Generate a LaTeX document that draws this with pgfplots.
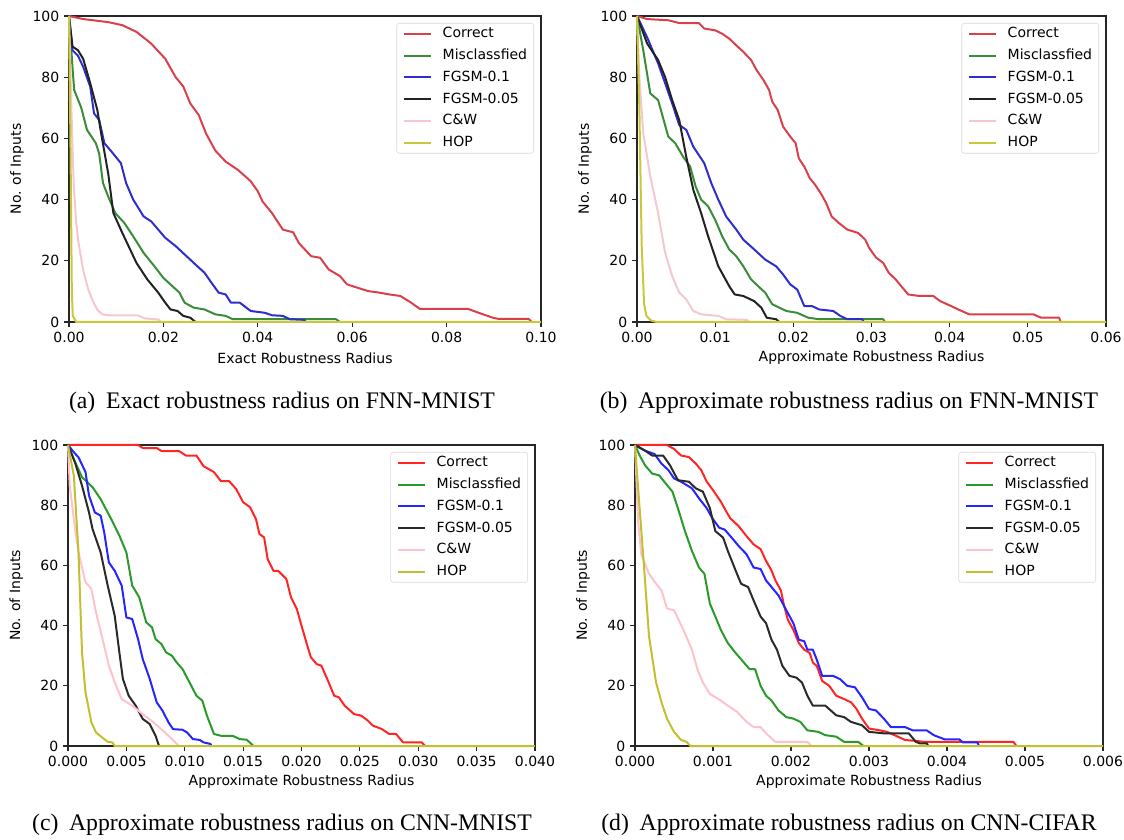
\documentclass[border=0pt]{standalone}
\usepackage{pgfplots}
\pgfplotsset{compat=1.18}
\usepackage{fontspec}
\setmainfont{Liberation Serif}
\newfontfamily\dejavu{DejaVu Sans}
\newcommand{\tickfont}{\dejavu\fontsize{10.5}{12}\selectfont}
\definecolor{redA}{HTML}{D9404A}
\definecolor{greenA}{HTML}{3A8C3A}
\definecolor{blueA}{HTML}{2E2ECC}
\definecolor{blackA}{HTML}{222222}
\definecolor{pinkA}{HTML}{F5C8CF}
\definecolor{yelA}{HTML}{C8C83A}
\definecolor{redC}{HTML}{FF2525}
\definecolor{greenC}{HTML}{2A9A2A}
\definecolor{blueC}{HTML}{2525FF}
\definecolor{blackC}{HTML}{2A2A2A}
\definecolor{pinkC}{HTML}{FFC2CC}
\definecolor{yelC}{HTML}{C0C030}
\pgfplotsset{
  panel/.style={
    scale only axis,
    axis line style={line width=0.8pt, black!85},
    tick align=outside,
    major tick length=3.75pt,
    tick style={black!85, line width=0.8pt},
    xtick pos=bottom, ytick pos=left,
    ymin=0, ymax=100, ytick={0,20,40,60,80,100},
    ticklabel style={font=\tickfont},
    label style={font=\tickfont},
    /pgf/number format/assume math mode=true,
    scaled x ticks=false,
    clip=false,
    every axis plot/.append style={line width=1.5pt, line join=round, mark=none},
    legend cell align=left,
    legend image code/.code={\draw[##1,line width=1.5pt] (0pt,0pt) -- (20pt,0pt);},
    legend style={at={(1,1)}, anchor=north east, xshift=-5.25pt, yshift=-5.25pt,
      draw=black!15, rounded corners=2pt, fill=white,
      font=\tickfont, inner xsep=5pt, inner ysep=3pt,
      row sep=6.3pt,
      nodes={inner sep=0pt, text height=8pt, text depth=2pt},
      /tikz/every odd column/.append style={column sep=8pt}},
    ylabel={No. of Inputs},
  }
}
\begin{document}
\begin{tikzpicture}
\path[use as bounding box] (0,0) rectangle (843pt,629.25pt);
% ---------------- (a)
\begin{axis}[panel, at={(51.75pt,387.75pt)}, anchor=south west,
  width=354pt, height=229.5pt,
  xmin=0, xmax=0.1, xtick={0,0.02,0.04,0.06,0.08,0.1},
  xticklabel style={/pgf/number format/.cd, fixed, fixed zerofill, precision=2},
  xlabel={Exact Robustness Radius},
  xlabel style={at={(axis description cs:0.5,-0.1176)}, anchor=center},
  ylabel style={at={(axis description cs:-0.110,0.5)}, anchor=center}]
\addplot[redA] coordinates {(0,100)(0.003,99)(0.0083,98)(0.0113,97)(0.0143,94.8)(0.0174,91)(0.0204,86)(0.0226,80)(0.0242,77)(0.0257,71.4)(0.0275,67.6)(0.029,61.7)(0.031,56)(0.0332,52.4)(0.0358,49.7)(0.0385,46)(0.04,42.7)(0.041,39.4)(0.043,35.6)(0.0453,30.2)(0.0475,29.3)(0.0487,25.8)(0.0513,21.5)(0.0532,21)(0.055,17.2)(0.0574,15)(0.0589,12.3)(0.0611,11.2)(0.0634,10.1)(0.0657,9.6)(0.0679,9)(0.0702,8.5)(0.0725,6.3)(0.0743,4.3)(0.0845,4.3)(0.0868,3)(0.0898,1.4)(0.091,1)(0.0974,1)(0.098,0)};
\addlegendentry{Correct}
\addplot[greenA] coordinates {(0,100)(0.00075,83)(0.0011,75.8)(0.0026,70)(0.0038,62.8)(0.0057,58.4)(0.0064,55)(0.0072,45.4)(0.0083,41)(0.0098,35.6)(0.0117,32.4)(0.0136,28)(0.0158,22.6)(0.0181,18.2)(0.02,14.4)(0.0219,11.7)(0.0234,9.6)(0.0245,6.3)(0.0264,4.7)(0.0287,4.1)(0.031,2.5)(0.0332,2)(0.0347,0.9)(0.0566,0.9)(0.0574,0)};
\addlegendentry{Misclassfied}
\addplot[blueA] coordinates {(0,100)(0.00075,88.8)(0.0019,87)(0.003,83.4)(0.0045,76.9)(0.0053,68.2)(0.0064,66)(0.0075,58.4)(0.009,55.7)(0.011,51.9)(0.0121,45.4)(0.0136,40)(0.0158,34.5)(0.0174,32.9)(0.0189,30.2)(0.0204,27.5)(0.0226,24.8)(0.0249,21.5)(0.0272,18.2)(0.0287,16.1)(0.0302,12.8)(0.0317,9.6)(0.0332,9)(0.0343,6.3)(0.0362,6.3)(0.0385,3.6)(0.0415,3)(0.043,2.2)(0.0453,2)(0.0468,0.9)(0.0498,0.7)(0.0502,0)};
\addlegendentry{FGSM-0.1}
\addplot[blackA] coordinates {(0,100)(0.00075,90)(0.0019,88.8)(0.003,86)(0.0045,78)(0.006,69.3)(0.0068,61.7)(0.0083,48.6)(0.0094,35.6)(0.0113,29.1)(0.0143,19.3)(0.0166,13.9)(0.0189,9.6)(0.0204,6.3)(0.0215,4.1)(0.023,3.6)(0.0242,2)(0.0257,1.4)(0.0268,0)};
\addlegendentry{FGSM-0.05}
\addplot[pinkA] coordinates {(0,100)(0.0005,70)(0.001,45)(0.0015,33)(0.002,26)(0.003,17)(0.004,11)(0.005,7)(0.006,4)(0.007,2.5)(0.0085,2.2)(0.0145,2.2)(0.016,1.2)(0.019,0.8)(0.0195,0)};
\addlegendentry{C\&W}
\addplot[yelA] coordinates {(0,100)(0.0003,60)(0.0006,10)(0.0008,2)(0.0012,1)(0.0015,0)(0.1,0)};
\addlegendentry{HOP}
\end{axis}
% ---------------- (b)
\begin{axis}[panel, at={(477.75pt,387.75pt)}, anchor=south west,
  width=351.75pt, height=229.5pt,
  xmin=0, xmax=0.06, xtick={0,0.01,0.02,0.03,0.04,0.05,0.06},
  xticklabel style={/pgf/number format/.cd, fixed, fixed zerofill, precision=2},
  xlabel={Approximate Robustness Radius},
  xlabel style={at={(axis description cs:0.5,-0.1176)}, anchor=center},
  ylabel style={at={(axis description cs:-0.111,0.5)}, anchor=center}]
\addplot[redA] coordinates {(0,100)(0.0013,99)(0.004,98.6)(0.0054,97.7)(0.0079,97.7)(0.0086,95.9)(0.01,95.3)(0.0109,94.2)(0.0118,92.6)(0.0127,90.4)(0.0136,88.3)(0.0146,85.6)(0.0153,82.3)(0.0162,79)(0.0169,75.8)(0.0173,72)(0.018,69.3)(0.0187,63.8)(0.0196,60.6)(0.0203,58.4)(0.0207,53.5)(0.0214,50.8)(0.0221,47)(0.0228,44.8)(0.0235,42.1)(0.0242,38.9)(0.0249,34.5)(0.0258,32.4)(0.0269,30.2)(0.0283,29.1)(0.0292,26.9)(0.0297,24.2)(0.0306,21)(0.0315,19.3)(0.0322,16.1)(0.0331,13.9)(0.0338,11.7)(0.0347,9)(0.0361,8.5)(0.0379,8.5)(0.0388,6.8)(0.0402,5.2)(0.0411,4.1)(0.0425,2.5)(0.0507,2.5)(0.0517,1.4)(0.054,1.4)(0.0542,0)};
\addlegendentry{Correct}
\addplot[greenA] coordinates {(0,100)(0.0008,88.8)(0.0017,74.7)(0.0027,72.5)(0.004,60.6)(0.0049,58.4)(0.0059,54)(0.0068,50.8)(0.0075,44.3)(0.0082,40)(0.0091,37.8)(0.01,33.4)(0.0109,28)(0.0118,23.7)(0.0127,21.5)(0.0136,18.2)(0.0146,13.9)(0.0155,11.7)(0.0164,9.6)(0.0173,5.8)(0.0182,4.7)(0.0191,3.6)(0.0205,3)(0.0219,1.4)(0.0233,0.9)(0.0315,0.9)(0.0317,0)};
\addlegendentry{Misclassfied}
\addplot[blueA] coordinates {(0,100)(0.0013,93)(0.0027,84.5)(0.0036,78)(0.0045,71.4)(0.0054,64.4)(0.0063,62.8)(0.0072,57.3)(0.0086,51.9)(0.0095,45.4)(0.0104,40)(0.0114,34.5)(0.0127,30.2)(0.0136,26.9)(0.015,23.7)(0.0164,20.4)(0.0178,18.2)(0.0187,15.5)(0.0196,12.3)(0.0205,10.6)(0.0214,5.2)(0.0224,5.2)(0.0233,4.1)(0.0251,3.6)(0.026,2)(0.0269,0.9)(0.0288,0.9)(0.029,0)};
\addlegendentry{FGSM-0.1}
\addplot[blackA] coordinates {(0,100)(0.0013,91)(0.0027,85.6)(0.0036,80)(0.0045,72.5)(0.0054,66)(0.0063,54)(0.0072,43.2)(0.0082,35.6)(0.0091,28)(0.0104,18.2)(0.0118,11.7)(0.0125,9)(0.0136,8.5)(0.015,6.8)(0.0159,4.7)(0.0166,1.4)(0.0178,0.9)(0.0182,0)};
\addlegendentry{FGSM-0.05}
\addplot[pinkA] coordinates {(0,100)(0.0003,80)(0.0008,61.7)(0.0017,47.6)(0.0027,35.6)(0.0036,22.6)(0.0045,15)(0.0054,9.6)(0.0063,7.4)(0.0072,3.6)(0.0082,2.5)(0.0104,2)(0.0114,0.9)(0.0141,0.7)(0.0143,0)};
\addlegendentry{C\&W}
\addplot[yelA] coordinates {(0,100)(0.0003,70)(0.0006,25)(0.0009,6)(0.0012,2)(0.0018,0.5)(0.0025,0)(0.06,0)};
\addlegendentry{HOP}
\end{axis}
% ---------------- (c)
\begin{axis}[panel, at={(51pt,69.75pt)}, anchor=south west,
  width=350.25pt, height=225.75pt,
  xmin=0, xmax=0.04, xtick={0,0.005,0.01,0.015,0.02,0.025,0.03,0.035,0.04},
  xticklabel style={/pgf/number format/.cd, fixed, fixed zerofill, precision=3},
  xlabel={Approximate Robustness Radius},
  xlabel style={at={(axis description cs:0.5,-0.1186)}, anchor=center},
  ylabel style={at={(axis description cs:-0.111,0.5)}, anchor=center}]
\addplot[redC] coordinates {(0,100)(0.006,100)(0.0064,99)(0.0076,99)(0.008,98)(0.0095,98)(0.0101,96.5)(0.011,96.5)(0.0116,93)(0.0125,91)(0.0131,88)(0.0138,88)(0.0144,85.4)(0.015,81)(0.0156,79.3)(0.0161,75.4)(0.0164,70.4)(0.0168,69.3)(0.0171,62.1)(0.0176,58.2)(0.018,58.2)(0.0187,55.5)(0.0191,49.4)(0.0196,45.5)(0.02,40)(0.0205,33.3)(0.0208,29.5)(0.0213,27.2)(0.0217,26.7)(0.0222,22.3)(0.0228,16.7)(0.0232,16.2)(0.0237,13.4)(0.0245,10.6)(0.0251,10.1)(0.0257,8.4)(0.0261,6.8)(0.0269,5.6)(0.0275,4)(0.0281,4)(0.0287,1.2)(0.0303,1.2)(0.0306,0)};
\addlegendentry{Correct}
\addplot[greenC] coordinates {(0,100)(0.0005,95.3)(0.0012,89.3)(0.0021,86)(0.0028,82)(0.0037,75.4)(0.0044,69.9)(0.005,64.3)(0.0055,53.3)(0.0061,49.4)(0.0067,41.1)(0.0072,39.4)(0.0075,35.5)(0.008,33.9)(0.0084,31.1)(0.0089,30)(0.0093,27.8)(0.0098,25.6)(0.0104,21.2)(0.011,16.7)(0.0115,15.1)(0.0119,10.1)(0.0125,4)(0.0131,3.4)(0.0141,3.4)(0.0147,2.3)(0.0153,2.1)(0.0157,0.7)(0.0159,0)};
\addlegendentry{Misclassfied}
\addplot[blueC] coordinates {(0,100)(0.0005,97.6)(0.0009,95.9)(0.0015,91)(0.0018,83.2)(0.0023,77.6)(0.0028,76.5)(0.0031,71)(0.0035,61)(0.004,58.2)(0.0046,53.3)(0.005,42.7)(0.0055,42.2)(0.006,35.5)(0.0064,28.9)(0.007,22.3)(0.0076,14.5)(0.0081,11.7)(0.0086,7.9)(0.009,5.6)(0.0098,5.4)(0.0102,4.5)(0.0107,2.3)(0.0113,2)(0.0116,1.2)(0.0122,0.7)(0.0123,0)};
\addlegendentry{FGSM-0.1}
\addplot[blackC] coordinates {(0,100)(0.0006,94.2)(0.0012,86.5)(0.0018,77.6)(0.0021,72.1)(0.0028,64.3)(0.0034,53.3)(0.004,43.3)(0.0044,31.1)(0.0047,22.3)(0.0052,16.7)(0.0058,13.4)(0.0064,9)(0.007,7.3)(0.0075,3.4)(0.0078,0)};
\addlegendentry{FGSM-0.05}
\addplot[pinkC] coordinates {(0,100)(0.00015,86.5)(0.0005,75.4)(0.0009,64.3)(0.0015,54.4)(0.002,52.2)(0.0024,44.4)(0.0031,33.3)(0.0035,26.7)(0.004,21.2)(0.0046,15.6)(0.0055,13.4)(0.0064,10.6)(0.0073,7.9)(0.0083,4.5)(0.0092,1.2)(0.0095,0)};
\addlegendentry{C\&W}
\addplot[yelC] coordinates {(0,100)(0.0005,89.8)(0.0009,64.3)(0.0012,31.1)(0.0015,17.8)(0.002,7.9)(0.0024,4.5)(0.0029,2.9)(0.0034,1.4)(0.0038,1.2)(0.004,0)(0.04,0)};
\addlegendentry{HOP}
\end{axis}
% ---------------- (d)
\begin{axis}[panel, at={(476.25pt,69.75pt)}, anchor=south west,
  width=351pt, height=225.75pt,
  xmin=0, xmax=0.006, xtick={0,0.001,0.002,0.003,0.004,0.005,0.006},
  xticklabel style={/pgf/number format/.cd, fixed, fixed zerofill, precision=3},
  xlabel={Approximate Robustness Radius},
  xlabel style={at={(axis description cs:0.5,-0.1186)}, anchor=center},
  ylabel style={at={(axis description cs:-0.111,0.5)}, anchor=center}]
\addplot[redC] coordinates {(0,100)(0.00041,100)(0.0005,98.7)(0.00059,96.5)(0.00069,96)(0.00078,93.8)(0.00085,91.6)(0.00092,87.8)(0.001,85)(0.0011,81.2)(0.00117,77.9)(0.00122,75.7)(0.00133,73)(0.00143,69.7)(0.00152,67)(0.00161,65.4)(0.00168,61.5)(0.00175,58.3)(0.0018,55)(0.00187,51.7)(0.00191,46.8)(0.00196,41.9)(0.00203,38.6)(0.0021,34.2)(0.00217,32)(0.00224,30.9)(0.00228,27.7)(0.00233,26.6)(0.0024,21.6)(0.00249,20)(0.00258,16.7)(0.00268,15.6)(0.00277,14.5)(0.00284,12.3)(0.00291,9.1)(0.003,5.8)(0.00314,5.2)(0.00323,4.7)(0.00337,3.1)(0.00346,2)(0.0036,1.7)(0.0037,1.4)(0.00485,1.4)(0.00489,0)};
\addlegendentry{Correct}
\addplot[greenC] coordinates {(0,100)(0.00006,96.5)(0.00013,93.2)(0.00022,90.5)(0.00031,89.9)(0.00041,86.7)(0.00048,84.5)(0.00055,79)(0.00064,71.4)(0.00073,64.8)(0.00082,59.3)(0.00089,57.2)(0.00096,47.3)(0.00103,43)(0.0011,38.6)(0.00119,34.2)(0.00129,30.9)(0.00138,28.2)(0.00147,25.5)(0.00154,25.5)(0.00161,20)(0.00168,16.7)(0.00175,15.1)(0.00184,11.8)(0.00194,9.6)(0.00203,9.1)(0.00212,8)(0.00221,5.2)(0.00235,4.7)(0.00244,3.6)(0.00258,3.1)(0.00268,1.4)(0.00286,1.4)(0.00293,0)};
\addlegendentry{Misclassfied}
\addplot[blueC] coordinates {(0,100)(0.00013,98.1)(0.00025,97)(0.00034,93.8)(0.00043,91.6)(0.0005,88.9)(0.00059,87.8)(0.00073,85.6)(0.00082,82.3)(0.00092,79)(0.00099,75.7)(0.00108,72.5)(0.00115,71.9)(0.00124,69.2)(0.00133,66.4)(0.00143,63.7)(0.00152,59.3)(0.00161,58.8)(0.00168,55)(0.00177,52.2)(0.00184,50)(0.00194,45.1)(0.00203,40.8)(0.0021,35.3)(0.00217,34.8)(0.00221,32)(0.00228,32)(0.00233,28.7)(0.0024,23.3)(0.00254,23.3)(0.00263,22.2)(0.00272,20)(0.00282,19.5)(0.00291,16.2)(0.003,12.3)(0.00309,11.8)(0.00319,9.1)(0.00328,6.3)(0.00346,6.3)(0.00356,5.2)(0.00374,5.2)(0.00383,3.6)(0.00397,2.2)(0.00416,2.2)(0.0042,1.2)(0.00439,1.2)(0.00441,0)};
\addlegendentry{FGSM-0.1}
\addplot[blackC] coordinates {(0,100)(0.00013,98.1)(0.00022,96.5)(0.00036,96.5)(0.00045,93.2)(0.00055,88.3)(0.00069,87.8)(0.00078,85.6)(0.00087,84.5)(0.00096,79)(0.00103,71.4)(0.00113,69.2)(0.00119,64.8)(0.00129,58.3)(0.00136,53.9)(0.00145,52.8)(0.00152,48.4)(0.00161,43)(0.00168,40.8)(0.00175,35.3)(0.00182,32)(0.00189,26.6)(0.00198,23.3)(0.00207,22.7)(0.00214,21.1)(0.00221,16.7)(0.00228,13.4)(0.00244,13.4)(0.00258,10.2)(0.00268,9.6)(0.00277,8)(0.00291,6.9)(0.003,4.7)(0.00319,4.2)(0.00351,4.2)(0.0036,1.4)(0.00365,0.9)(0.00374,0.9)(0.00376,0)};
\addlegendentry{FGSM-0.05}
\addplot[pinkC] coordinates {(0,100)(0.00004,74.6)(0.00008,63.7)(0.00018,57.2)(0.00027,53.9)(0.00034,51.7)(0.00041,45.7)(0.0005,45.1)(0.00062,38.6)(0.00073,32)(0.0008,25.5)(0.00087,21.1)(0.00096,17.3)(0.0011,15.1)(0.00119,13.4)(0.00131,11.3)(0.00143,8)(0.00152,6.3)(0.00161,6.3)(0.00168,4.2)(0.0018,1.4)(0.00221,1.4)(0.00226,0)};
\addlegendentry{C\&W}
\addplot[yelC] coordinates {(0,100)(0.00004,85.6)(0.00011,61.5)(0.00018,36.4)(0.00027,21.1)(0.00034,14.5)(0.00041,9.1)(0.0005,4.7)(0.00059,2)(0.00066,1.4)(0.00071,0)(0.006,0)};
\addlegendentry{HOP}
\end{axis}
% captions
\node[font=\fontsize{17.8}{20}\selectfont, anchor=center] at (211.5pt,327pt) {(a)\hspace{0.45em}Exact robustness radius on FNN-MNIST};
\node[font=\fontsize{17.8}{20}\selectfont, anchor=center] at (636.75pt,327pt) {(b)\hspace{0.45em}Approximate robustness radius on FNN-MNIST};
\node[font=\fontsize{17.8}{20}\selectfont, anchor=center] at (211.5pt,11pt) {(c)\hspace{0.45em}Approximate robustness radius on CNN-MNIST};
\node[font=\fontsize{17.8}{20}\selectfont, anchor=center] at (636.75pt,11pt) {(d)\hspace{0.45em}Approximate robustness radius on CNN-CIFAR};
\end{tikzpicture}
\end{document}
